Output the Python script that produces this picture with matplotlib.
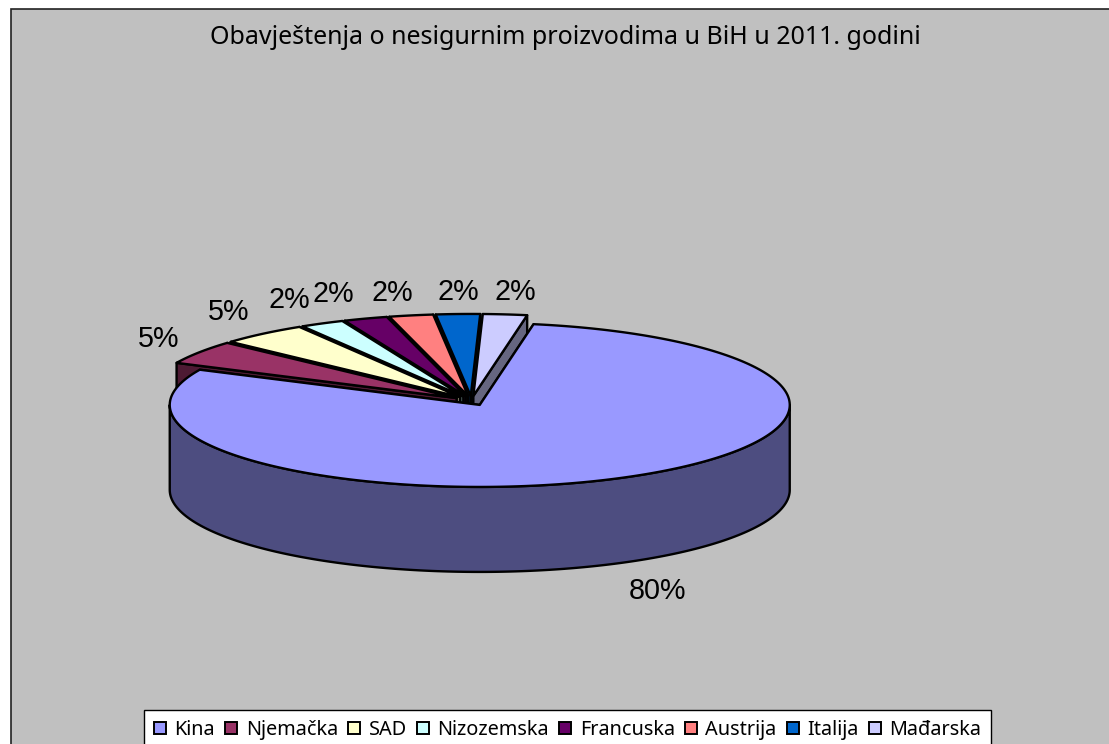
"""Exploded 3D pie of unsafe product notifications, drawn with polygons on a pixel-sized axes."""
import numpy as np
import matplotlib
matplotlib.use("Agg")
import matplotlib.pyplot as plt
from matplotlib.patches import Patch, Polygon, Rectangle

countries = ["Kina", "Njemačka", "SAD", "Nizozemska", "Francuska", "Austrija", "Italija", "Mađarska"]
shares = [79.6, 4.7, 4.6, 2.3, 2.3, 2.3, 2.3, 2.3]
colors = ["#9999FF", "#993366", "#FFFFCC", "#CCFFFF", "#660066", "#FF8080", "#0066CC", "#CCCCFF"]
title = "Obavještenja o nesigurnim proizvodima u BiH u 2011. godini"

# pie geometry, in pixels
CX, CY = 471.5, 400.7
RX, RY = 310, 82
DEPTH = 85
EXPLODE = 0.058
START = 10.0
# label nudges from the radial position
label_nudge = [(-4, 8), (32, -1), (21, -4), (7, -3), (-4, -3), (-3, 0), (4, 1), (1, 0)]

TEXT_FONT = "Noto Sans"
LABEL_FONT = "Liberation Sans"


def rim(theta, cx, cy):
    t = np.radians(theta)
    return np.column_stack([cx + RX * np.sin(t), cy - RY * np.cos(t)])


def darker(hex_color):
    return tuple(c * 0.5 for c in matplotlib.colors.to_rgb(hex_color))


fig = plt.figure(figsize=(11.09, 7.44), dpi=100, facecolor="white")
ax = fig.add_axes([0, 0, 1, 1])
ax.set_xlim(0, 1109)
ax.set_ylim(744, 0)
ax.axis("off")
ax.add_patch(Rectangle((11, 9), 1200, 800, facecolor="#C0C0C0", edgecolor="#222222", lw=1.2))
ax.text(565, 37, title, ha="center", va="center", fontsize=18, family=TEXT_FONT, color="black")

total = sum(shares)
sweeps = [s / total * 360 for s in shares]
starts = START + np.concatenate([[0], np.cumsum(sweeps)[:-1]])
mids = starts + np.array(sweeps) / 2
line = dict(edgecolor="black", lw=1.7, joinstyle="round")

# back slices first, Kina last
for i in sorted(range(len(shares)), key=lambda k: -np.cos(np.radians(mids[k]))):
    m = np.radians(mids[i])
    cx = CX + EXPLODE * RX * np.sin(m)
    cy = CY - EXPLODE * RY * np.cos(m)
    a0, a1 = starts[i], starts[i] + sweeps[i]
    side = darker(colors[i])

    # radial walls, the lower one on top
    edges = sorted([a0, a1], key=lambda a: rim([a], cx, cy)[0, 1])
    for a in edges:
        p = rim([a], cx, cy)[0]
        ax.add_patch(Polygon([(cx, cy), p, p + (0, DEPTH), (cx, cy + DEPTH)], facecolor=side, **line))

    # outer wall, front half only
    lo, hi = max(a0, 90), min(a1, 270)
    if hi > lo:
        t = np.linspace(lo, hi, 200)
        top_edge = rim(t, cx, cy)
        wall = np.vstack([top_edge, (top_edge + (0, DEPTH))[::-1]])
        ax.add_patch(Polygon(wall, facecolor=side, **line))

    t = np.linspace(a0, a1, max(int(sweeps[i] * 2), 8))
    ax.add_patch(Polygon(np.vstack([[(cx, cy)], rim(t, cx, cy)]), facecolor=colors[i], **line))

    # percent label
    f = 1.28
    lx = cx + f * RX * np.sin(m) + label_nudge[i][0]
    ly = cy - f * RY * np.cos(m) + (DEPTH if np.cos(m) < 0 else 0) + label_nudge[i][1]
    ax.text(lx, ly, f"{round(shares[i])}%", ha="center", va="center", fontsize=20.7, family=LABEL_FONT)

handles = [Patch(facecolor=c, edgecolor="black", lw=1.4) for c in colors]
ax.legend(handles, countries, ncol=len(countries), loc="upper left", bbox_to_anchor=(144 / 1109, 1 - 710 / 744),
          bbox_transform=ax.transAxes, borderaxespad=0, frameon=True, fancybox=False, framealpha=1,
          facecolor="white", edgecolor="black", handlelength=0.62, handleheight=0.62,
          handletextpad=0.42, columnspacing=0.5, borderpad=0.5, prop={"family": TEXT_FONT, "size": 14.3})

fig.savefig("out.png", dpi=100)
